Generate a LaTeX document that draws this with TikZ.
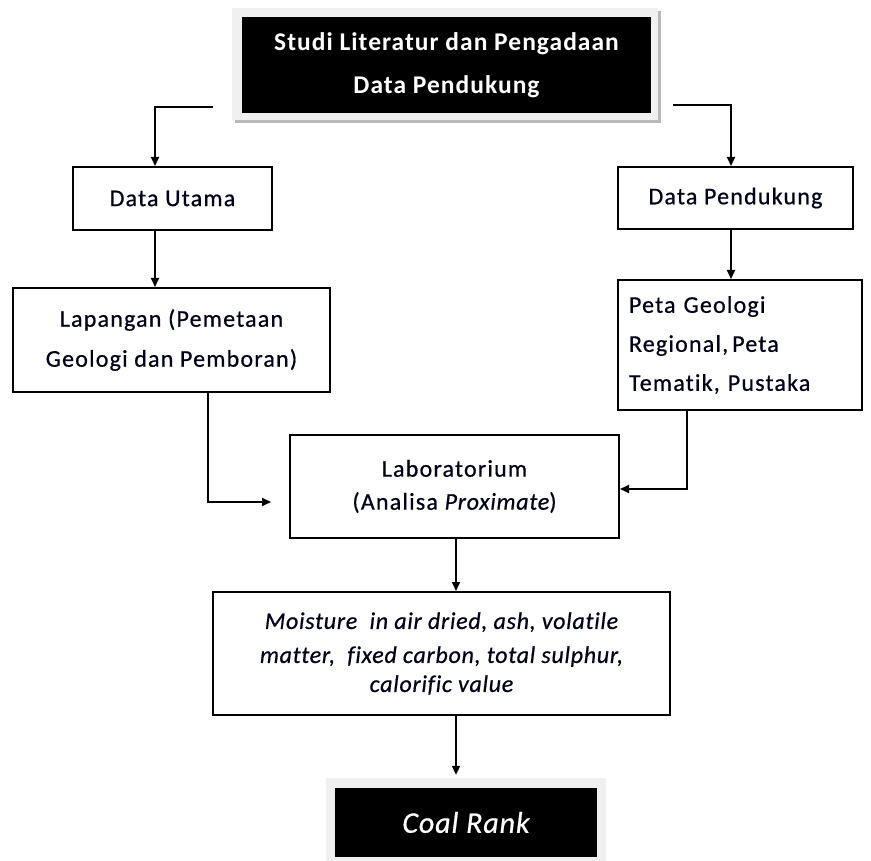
\documentclass[tikz,border=0pt]{standalone}
\usepackage{fontspec}
\usetikzlibrary{arrows.meta,calc}
\newfontfamily\crl{Carlito}[LetterSpace=5,FakeBold=0.6,Ligatures=NoCommon]
\newfontfamily\crli{Carlito}[LetterSpace=3,FakeBold=0.6,Ligatures=NoCommon]
\newfontfamily\crlb{Carlito}[LetterSpace=4]
\begin{document}
\begin{tikzpicture}[x=1pt,y=-1pt,
  box/.style={draw=black, line width=2pt, fill=white, inner sep=0pt, align=center,
    font=\crl\fontsize{24pt}{40pt}\selectfont, text=black!90!blue},
  darkbox/.style={fill=black, inner sep=0pt, align=center, text=white},
  frame/.style={fill=gray!12, inner sep=0pt},
  arr/.style={line width=2pt, -{Triangle[length=9pt,width=8pt]}}]
\useasboundingbox (0,0) rectangle (871,861);
% top box
\node[fill=gray!55, inner sep=0pt, minimum width=426pt, minimum height=112pt] (topshadow) at (448,67) {};
\node[frame, minimum width=426pt, minimum height=112pt] (topframe) at (445,64) {};
\node[darkbox, minimum width=409pt, minimum height=96pt,
  font=\crlb\bfseries\fontsize{25.5pt}{43pt}\selectfont] (top) at (446.5,65)
  {Studi Literatur dan Pengadaan\\Data Pendukung};
% second level
\node[box, minimum width=199pt, minimum height=63pt] (utama) at (172.5,198.5) {Data Utama};
\node[box, minimum width=235pt, minimum height=62pt] (pend) at (735.5,198) {Data Pendukung};
% third level
\node[box, minimum width=317pt, minimum height=104pt] (lap) at (171.5,340)
  {Lapangan (Pemetaan\\Geologi dan Pemboran)};
\node[box, minimum width=244pt, minimum height=130pt, align=left, text width=222pt,
  font=\crl\fontsize{24pt}{39pt}\selectfont] (peta) at (740,345)
  {Peta Geologi\\Regional,\,Peta\\Tematik, Pustaka};
% lab
\node[box, minimum width=329pt, minimum height=103pt,
  font=\crl\fontsize{24pt}{33pt}\selectfont] (lab) at (454.5,486.5)
  {Laboratorium\\(Analisa {\crli\itshape Proximate})};
% moisture
\node[box, minimum width=457pt, minimum height=123pt,
  font=\crli\itshape\fontsize{24pt}{29pt}\selectfont] (moist) at (441.5,653.5)
  {Moisture\ \ in air dried, ash, volatile\\[5pt]matter,\ \ fixed carbon, total sulphur,\\calorific value};
% coal rank
\node[frame, minimum width=280pt, minimum height=88pt] (coalframe) at (466,822) {};
\node[darkbox, minimum width=262pt, minimum height=69pt,
  font=\crli\itshape\fontsize{30pt}{36pt}\selectfont] (coal) at (466,822.5) {Coal Rank};
% connectors
\coordinate (tl) at (213,107);
\coordinate (tr) at (673,105);
\draw[arr] (tl) -| ([xshift=-17.5pt]utama.north);
\draw[arr] (tr) -| ([xshift=-4.5pt]pend.north);
\draw[arr] ([xshift=-17.5pt]utama.south) -- ([xshift=-17.5pt]utama.south |- lap.north);
\draw[arr] ([xshift=-4.5pt]pend.south) -- ([xshift=-4.5pt]pend.south |- peta.north);
\draw[arr, shorten >=18pt] ([xshift=36.5pt]lap.south) |- ([yshift=-15.5pt]lab.west);
\draw[arr] ([xshift=-53pt]peta.south) |- ([yshift=-2.5pt]lab.east);
\draw[arr] ([xshift=1.5pt]lab.south) -- ([xshift=1.5pt]lab.south |- moist.north);
\draw[arr, shorten >=3pt] ([xshift=1.5pt]lab.south |- moist.south) -- ([xshift=1.5pt]lab.south |- coalframe.north);
\end{tikzpicture}
\end{document}
